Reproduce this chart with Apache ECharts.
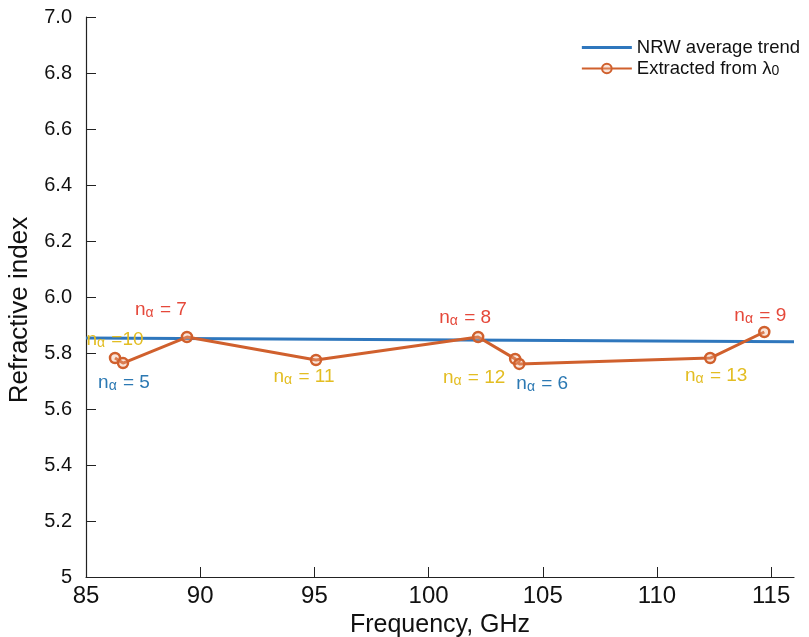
<!DOCTYPE html>
<html><head><meta charset="utf-8">
<script src="https://cdn.jsdelivr.net/npm/echarts@6/dist/echarts.min.js"></script>
<style>html,body{margin:0;padding:0;background:#fff}#c{width:809px;height:637px}</style>
</head><body><div id="c"></div>
<script>
// Data
const trendFreq = [85, 116];
const trendIndex = [5.854, 5.840];
const extFreq = [86.27, 86.62, 89.42, 95.07, 102.17, 103.79, 103.97, 112.33, 114.70];
const extIndex = [5.782, 5.764, 5.857, 5.775, 5.857, 5.779, 5.761, 5.782, 5.875];
const modeOrder = [10, 5, 7, 11, 8, 12, 6, 13, 9];
const xTicks = [85, 90, 95, 100, 105, 110, 115];
const yTicks = [5, 5.2, 5.4, 5.6, 5.8, 6.0, 6.2, 6.4, 6.6, 6.8, 7.0];

// label styling (not data)
const labelStyle = {
  10: {c: '#e3bd22', off: [0, -18]},
  5:  {c: '#2c79b3', off: [1, 20]},
  7:  {c: '#e5483a', off: [-26, -27]},
  11: {c: '#e3bd22', off: [-12, 17]},
  8:  {c: '#e5483a', off: [-13, -19]},
  12: {c: '#e3bd22', off: [-41, 19]},
  6:  {c: '#2c79b3', off: [23, 20]},
  13: {c: '#e3bd22', off: [6, 18]},
  9:  {c: '#e5483a', off: [-4, -16]}
};

const chart = echarts.init(document.getElementById('c'), null, {renderer: 'canvas'});
const FONT = '"Liberation Sans", Arial, sans-serif';

const extData = extFreq.map((f, i) => {
  const m = modeOrder[i];
  const st = labelStyle[m];
  return {
    value: [f, extIndex[i]],
    label: {
      show: true,
      position: 'inside',
      offset: st.off,
      formatter: m === 10 ? '{n|n}{s|α}{n| =' + m + '}' : '{n|n}{s|α}{n| = ' + m + '}',
      rich: {
        n: {fontSize: 19, color: st.c, fontFamily: FONT},
        s: {fontSize: 14, color: st.c, fontFamily: FONT, verticalAlign: 'bottom', padding: [6, 1, 0, 0]}
      }
    }
  };
});

chart.setOption({
  animation: false,
  backgroundColor: '#fff',
  grid: {left: 86, right: 15, top: 17, bottom: 60, outerBoundsMode: 'none', containLabel: false},
  legend: {
    right: 4, top: 33, orient: 'vertical', itemWidth: 50, itemHeight: 12, itemGap: 2,
    textStyle: {fontSize: 18.5, color: '#111', fontFamily: FONT,
      rich: {a: {fontSize: 18.5, fontFamily: FONT, color: '#111'}, s: {fontSize: 14, fontFamily: FONT, color: '#111', verticalAlign: 'bottom', padding: [6,0,0,0]}}},
    formatter: name => name === 'Extracted from λ0' ? '{a|Extracted from λ}{s|0}' : name,
    data: [
      {name: 'NRW average trend', icon: 'path://M0,0L50,0L50,3L0,3Z'},
      {name: 'Extracted from λ0'}
    ]
  },
  xAxis: {
    type: 'value', min: 85, max: 116, interval: 5,
    name: 'Frequency, GHz', nameLocation: 'middle', nameGap: 32,
    nameTextStyle: {fontSize: 25, color: '#111', fontFamily: FONT},
    axisLine: {lineStyle: {color: '#222', width: 1.2}},
    axisTick: {inside: true, length: 10, lineStyle: {color: '#222'}},
    axisLabel: {fontSize: 24, color: '#111', fontFamily: FONT, margin: 7, showMaxLabel: false},
    splitLine: {show: false}
  },
  yAxis: {
    type: 'value', min: 5, max: 7, interval: 0.2,
    name: 'Refractive index', nameLocation: 'middle', nameGap: 53,
    nameTextStyle: {fontSize: 26, color: '#111', fontFamily: FONT, padding: [0, 26, 0, 0]},
    axisLine: {show: true, lineStyle: {color: '#222', width: 1.2}},
    axisTick: {show: true, inside: true, length: 10, lineStyle: {color: '#222'}},
    axisLabel: {fontSize: 20, color: '#111', fontFamily: FONT, margin: 14,
      formatter: v => Math.abs(v - 5) < 1e-9 ? '5' : v.toFixed(1)},
    splitLine: {show: false}
  },
  series: [
    {
      name: 'NRW average trend', type: 'line', showSymbol: false, symbol: 'none',
      data: trendFreq.map((f, i) => [f, trendIndex[i]]),
      lineStyle: {color: '#2f77bd', width: 3}, itemStyle: {color: '#2f77bd'}, z: 2
    },
    {
      name: 'Extracted from λ0', type: 'line', symbol: 'circle', symbolSize: 10,
      data: extData,
      lineStyle: {color: '#d0602d', width: 3},
      itemStyle: {color: 'rgba(240,180,150,0.35)', borderColor: '#d0602d', borderWidth: 2.5},
      z: 3
    }
  ]
});
</script></body></html>
